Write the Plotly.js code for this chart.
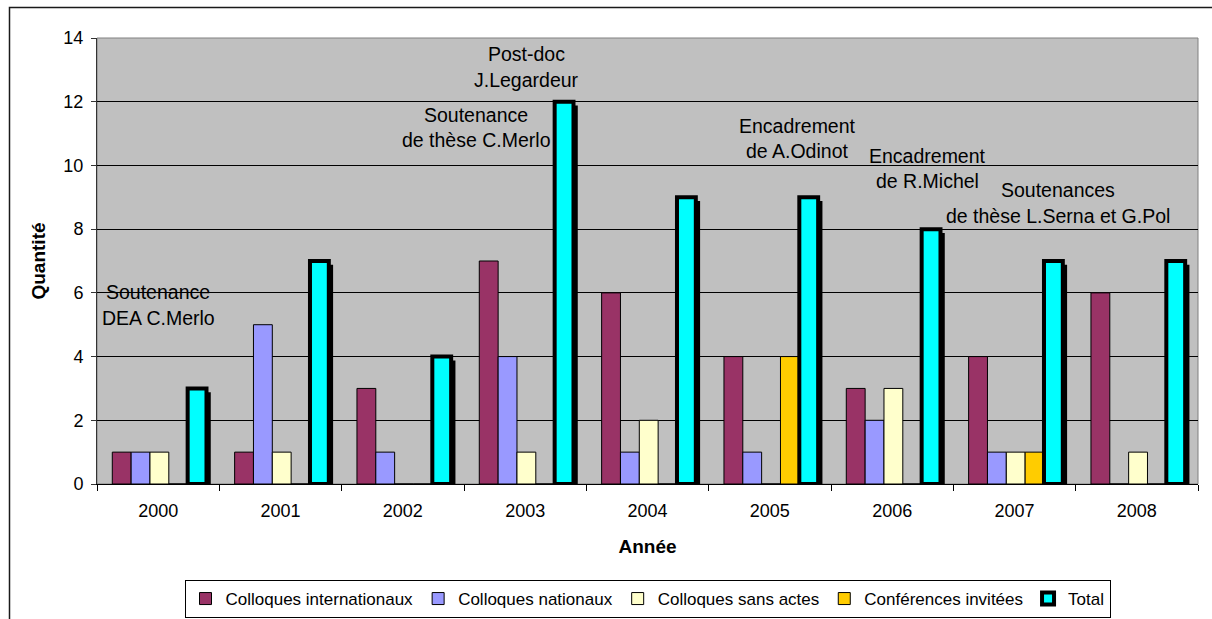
<!DOCTYPE html>
<html>
<head>
<meta charset="utf-8">
<script src="https://cdn.plot.ly/plotly-3.0.1.min.js"></script>
<style>html,body{margin:0;padding:0;background:#fff;}#chart{width:1212px;height:619px;}</style>
</head>
<body>
<div id="chart"></div>
<script>
const years = ['2000','2001','2002','2003','2004','2005','2006','2007','2008'];
const seriesNames = ['Colloques internationaux','Colloques nationaux','Colloques sans actes','Conférences invitées','Total'];
const internationaux = [1, 1, 3, 7, 6, 4, 3, 4, 6];
const nationaux      = [1, 5, 1, 4, 1, 1, 2, 1, 0];
const sansActes      = [1, 1, 0, 1, 2, 0, 3, 1, 1];
const invitees       = [0, 0, 0, 0, 0, 4, 0, 1, 0];
const total          = [3, 7, 4, 12, 9, 9, 8, 7, 7];
const yTicks = [0, 2, 4, 6, 8, 10, 12, 14];
const notes = [
  ['Soutenance', 'DEA C.Merlo'],
  ['Soutenance', 'de thèse C.Merlo'],
  ['Post-doc', 'J.Legardeur'],
  ['Encadrement', 'de A.Odinot'],
  ['Encadrement', 'de R.Michel'],
  ['Soutenances', 'de thèse L.Serna et G.Pol']
];

// layout geometry (pixels)
const W = 1212, H = 619, L = 97, R = 1198, T = 38, B = 484;
const px2x = p => (p - L) / (R - L);
const px2y = p => (B - p) / (B - T);
const notePos = [
  [158, 292, 318],
  [476, 115, 140],
  [526, 54, 80],
  [797, 126, 151],
  [927, 156, 181],
  [1058, 190, 216]
];

const FONT = 'Liberation Sans, Arial, Helvetica, sans-serif';
const slot = 0.154;
const offs = [-0.375, -0.221, -0.067, 0.087, 0.241];
const colors = ['#993366', '#9999FF', '#FFFFCC', '#FFCC00', '#00FFFF'];
const vals = [internationaux, nationaux, sansActes, invitees, total];

const traces = [];
// shadow of total bars (same data, shifted)
traces.push({
  type: 'bar', x: years, y: total, base: total.map(() => -0.12),
  offset: offs[4] + 0.035, width: slot,
  marker: {color: '#000000', line: {width: 0}},
  showlegend: false, hoverinfo: 'skip'
});
for (let i = 0; i < 5; i++) {
  traces.push({
    type: 'bar', name: seriesNames[i], x: years, y: vals[i],
    offset: offs[i], width: slot,
    marker: {color: colors[i], line: {color: '#000000', width: i === 4 ? 4 : 1}}
  });
}

const annotations = [];
notes.forEach((n, i) => {
  const [cx, y1, y2] = notePos[i];
  annotations.push({xref: 'paper', yref: 'paper', x: px2x(cx), y: px2y(y1), text: n[0],
    showarrow: false, xanchor: 'center', yanchor: 'middle', font: {family: FONT, size: 19.5, color: '#000'}});
  annotations.push({xref: 'paper', yref: 'paper', x: px2x(cx), y: px2y(y2), text: n[1],
    showarrow: false, xanchor: 'center', yanchor: 'middle', font: {family: FONT, size: 19.5, color: '#000'}});
});

const layout = {
  width: W, height: H,
  margin: {l: L, r: W - R, t: T, b: H - B, pad: 0, autoexpand: false},
  paper_bgcolor: '#FFFFFF', plot_bgcolor: '#C0C0C0',
  barmode: 'overlay',
  font: {family: FONT, size: 17, color: '#000'},
  showlegend: true,
  legend: {orientation: 'h', x: 0.5, xanchor: 'center', y: px2y(580), yanchor: 'top',
    bgcolor: '#FFFFFF', bordercolor: '#000000', borderwidth: 1,
    font: {family: FONT, size: 17, color: '#000'}, traceorder: 'normal'},
  xaxis: {
    type: 'category', categoryorder: 'array', categoryarray: years,
    range: [-0.5, 8.5], tickson: 'boundaries', ticks: 'outside', ticklen: 6, tickcolor: '#000',
    ticklabelstandoff: 10,
    showline: true, linecolor: '#000', linewidth: 1, showgrid: false, zeroline: false,
    tickfont: {family: FONT, size: 18, color: '#000'},
    title: {text: 'Année', font: {family: FONT, size: 19, color: '#000', weight: 'bold'}, standoff: 20}
  },
  yaxis: {
    range: [0, 14], tickvals: yTicks, ticktext: yTicks.map(String),
    ticks: 'outside', ticklen: 5, tickcolor: '#333', ticklabelstandoff: 4,
    showline: true, linecolor: '#333', linewidth: 1,
    showgrid: true, gridcolor: '#000000', gridwidth: 1, zeroline: false,
    tickfont: {family: FONT, size: 18, color: '#000'},
    title: {text: 'Quantité', font: {family: FONT, size: 19, color: '#000', weight: 'bold'}, standoff: 12}
  },
  annotations: annotations,
  shapes: [
    {type: 'rect', xref: 'paper', yref: 'paper', x0: 0, x1: 1, y0: 0, y1: 1,
      line: {color: '#808080', width: 1}, layer: 'below'},
    {type: 'rect', xref: 'paper', yref: 'paper', x0: px2x(9.5), x1: px2x(1230), y0: px2y(640), y1: px2y(7.5),
      line: {color: '#1a1a1a', width: 1.5}, layer: 'above'}
  ]
};

Plotly.newPlot('chart', traces, layout, {displayModeBar: false, staticPlot: true});
</script>
</body>
</html>
